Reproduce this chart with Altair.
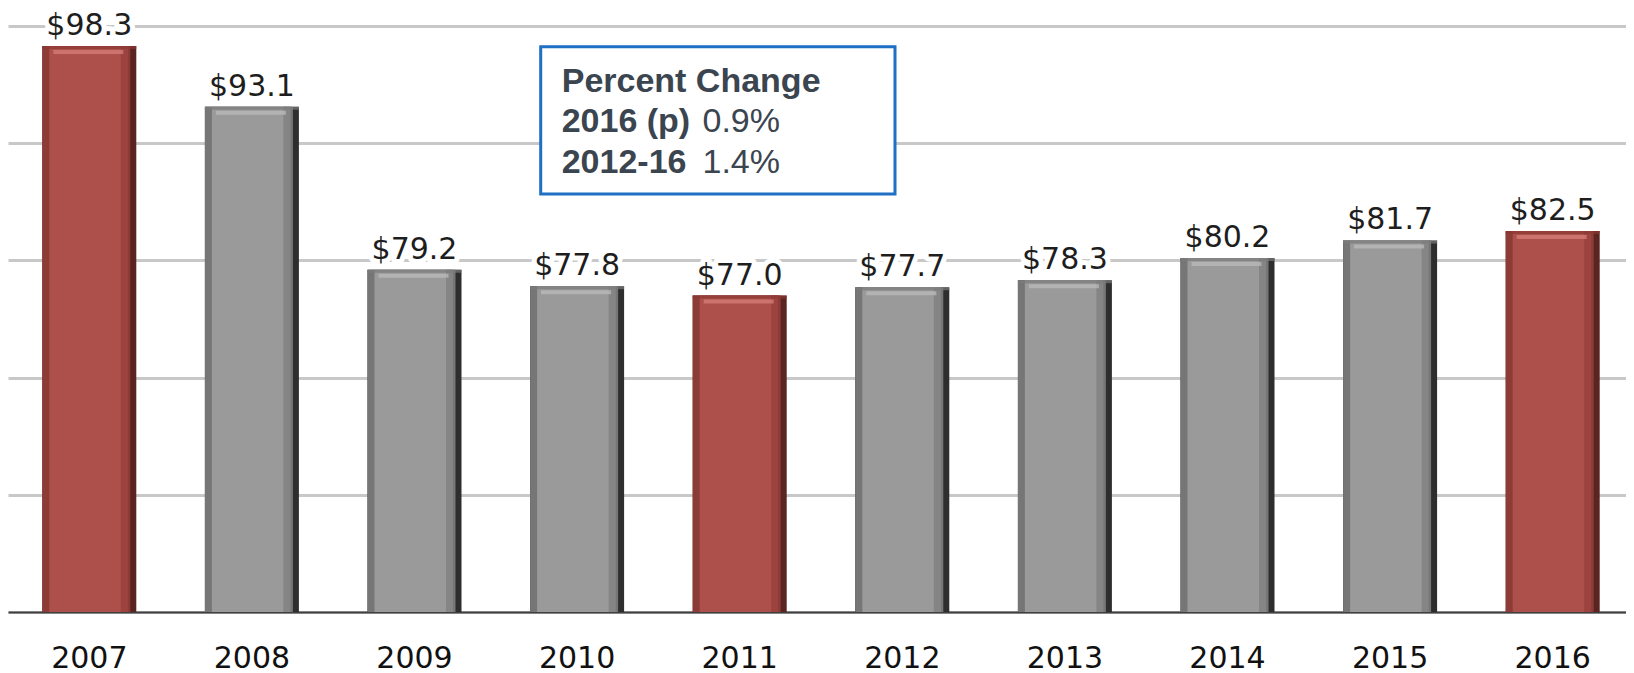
import altair as alt
import pandas as pd

years = ["2007", "2008", "2009", "2010", "2011", "2012", "2013", "2014", "2015", "2016"]
values = [98.3, 93.1, 79.2, 77.8, 77.0, 77.7, 78.3, 80.2, 81.7, 82.5]
highlight_years = ["2007", "2011", "2016"]
labels = ["$98.3", "$93.1", "$79.2", "$77.8", "$77.0", "$77.7", "$78.3", "$80.2", "$81.7", "$82.5"]
y_ticks = [50, 60, 70, 80, 90, 100]

note_bold = "Percent Change\n2016 (p)\n2012-16"
note_regular = "0.9%\n1.4%"

df = pd.DataFrame({"year": years, "value": values, "label": labels})
note_df = pd.DataFrame({"bold": [note_bold], "regular": [note_regular]})

is_red = alt.FieldOneOfPredicate(field="year", oneOf=highlight_years)

def col(red, grey):
    return alt.condition(is_red, alt.value(red), alt.value(grey))

x = alt.X("year:N", sort=years,
          scale=alt.Scale(range=[0, 1626], paddingInner=0, paddingOuter=0),
          axis=alt.Axis(title=None, labelFont="DejaVu Sans", labelFontSize=30,
                        labelColor="#111111", labelPadding=31, ticks=False,
                        domainColor="#404040", domainWidth=2, labelAngle=0))
y = alt.Y("value:Q", scale=alt.Scale(domain=[50, 100], zero=False, nice=False),
          axis=alt.Axis(title=None, labels=False, ticks=False, domain=False,
                        values=y_ticks, gridColor="#c8c8c8", gridWidth=3))
y2 = alt.datum(50)

base = alt.Chart(df)

bar_dark = base.mark_bar(size=94).encode(x=x, y=y, y2=y2, color=col("#5a2421", "#2e2e2e"))
bar_left = base.mark_bar(size=88, xOffset=-3).encode(x=x, y=y, y2=y2, color=col("#8d3b37", "#767676"))
bar_main = base.mark_bar(size=78, xOffset=-1).encode(x=x, y=y, y2=y2, color=col("#ad4f4a", "#9a9a9a"))
bar_rshade = base.mark_bar(size=7, xOffset=35).encode(x=x, y=y, y2=y2, color=col("#9c433f", "#858585"))
top_edge = base.mark_tick(size=94, thickness=3, yOffset=1.5).encode(x=x, y=y, color=col("#8a3733", "#7a7a7a"))
top_hl = base.mark_tick(size=70, thickness=4, yOffset=6, xOffset=-1).encode(x=x, y=y, color=col("#d9837e", "#bdbdbd"))

halo = base.mark_text(font="DejaVu Sans", fontSize=30, baseline="alphabetic", dy=-11,
                      stroke="white", strokeWidth=10, fill="white", strokeJoin="round").encode(
    x=x, y=y, text="label:N")
lab = base.mark_text(font="DejaVu Sans", fontSize=30, baseline="alphabetic", dy=-11,
                     color="#1e1e1e").encode(x=x, y=y, text="label:N")

nbase = alt.Chart(note_df)
box = nbase.mark_rect(fill="white", stroke="#1f6fc5", strokeWidth=3).encode(
    x=alt.value(532.7), x2=alt.value(887), y=alt.value(20.7), y2=alt.value(168))
ntext_b = nbase.mark_text(font="Liberation Sans", fontSize=34, fontWeight="bold", align="left",
                          baseline="alphabetic", lineHeight=40.7, lineBreak="\n",
                          color="#3b4550").encode(
    x=alt.value(553.7), y=alt.value(65.7), text="bold:N")
ntext_r = nbase.mark_text(font="Liberation Sans", fontSize=34, align="left",
                          baseline="alphabetic", lineHeight=40.7, lineBreak="\n",
                          color="#3b4550").encode(
    x=alt.value(694.5), y=alt.value(106.4), text="regular:N")

chart = alt.layer(bar_dark, bar_left, bar_main, bar_rshade, top_edge, top_hl,
                  halo, lab, box, ntext_b, ntext_r).properties(
    width=1618, height=586,
    autosize=alt.AutoSizeParams(type="none"),
    padding={"top": 18, "left": 0, "right": 0, "bottom": 61},
    background="white",
).configure_view(stroke=None)

chart.save("out.html", embed_options={"renderer": "svg", "actions": False})
